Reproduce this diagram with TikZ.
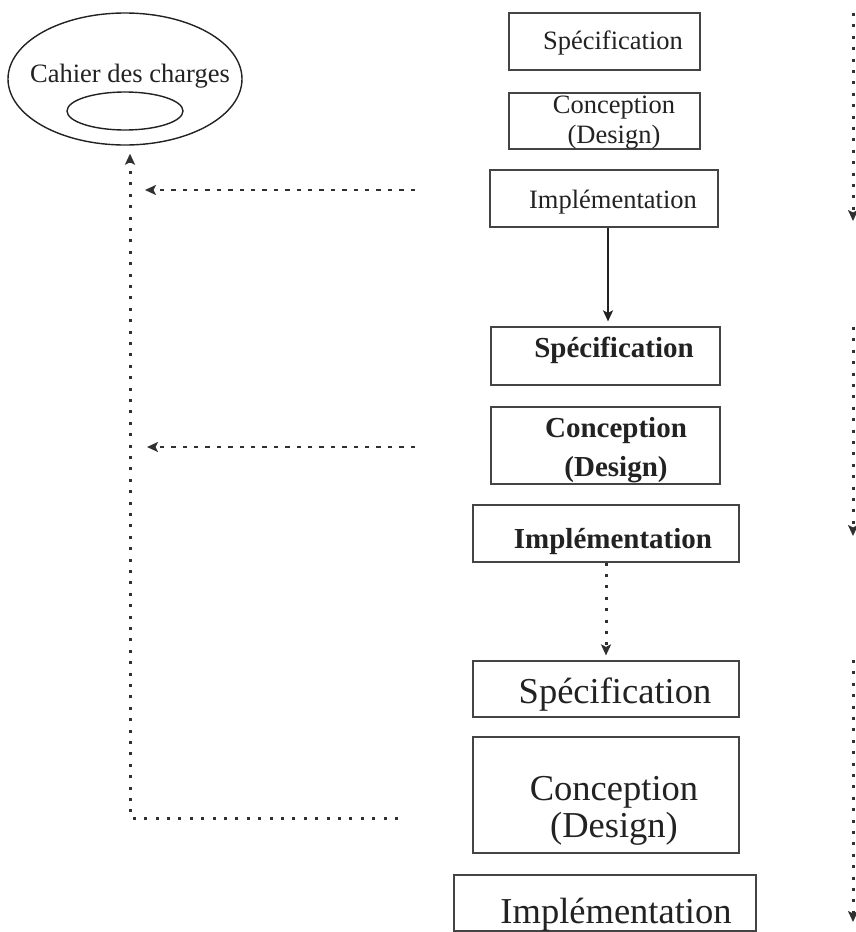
\documentclass[tikz,border=0pt]{standalone}
\usepackage{fontspec}
\setmainfont{Liberation Serif}
\usetikzlibrary{arrows.meta,shapes.geometric}
\definecolor{inkc}{HTML}{222222}
\definecolor{boxc}{HTML}{444444}
\definecolor{dotc}{HTML}{303030}
\tikzset{
  box/.style={draw=boxc, line width=1.2pt, rectangle, inner sep=0pt},
  oval/.style={draw=inkc, line width=1.4pt, ellipse, inner sep=0pt},
  lbl/.style={text=inkc, inner sep=0pt, anchor=base},
  fs/.style={font=\fontsize{26.5}{30}\selectfont},
  fm/.style={font=\fontsize{29}{34}\selectfont\bfseries},
  fl/.style={font=\fontsize{36.5}{40}\selectfont},
  dotv/.style={draw=dotc, line width=3pt, dash pattern=on 3pt off 8.4pt},
  doth/.style={draw=dotc, line width=2.6pt, dash pattern=on 4.5pt off 6.9pt},
  tipa/.style={-{Stealth[length=11pt,width=10pt,inset=2.5pt]}},
  solidarrow/.style={draw=inkc, line width=1.6pt}
}
\begin{document}
\begin{tikzpicture}[x=1pt,y=-1pt]
\useasboundingbox[fill=white] (0,0) rectangle (856,932);

% Cahier des charges
\node[oval, minimum width=234pt, minimum height=132pt] (cdc) at (125,79) {};
\node[oval, minimum width=116pt, minimum height=38pt] (inner) at (125,111) {};
\node[lbl, fs] (tcdc) at (130,82) {Cahier des charges};

% boxes, first cycle
\node[box, minimum width=191pt, minimum height=57pt] (b1) at (604.5,41.5) {};
\node[box, minimum width=191pt, minimum height=56pt] (b2) at (604.5,121) {};
\node[box, minimum width=228pt, minimum height=57pt] (b3) at (604,198.5) {};
\node[lbl, fs] (t1) at (613,49) {Spécification};
\node[lbl, fs] (t2a) at (614,113) {Conception};
\node[lbl, fs] (t2b) at (614,143) {(Design)};
\node[lbl, fs] (t3) at (613,208) {Implémentation};

% second cycle
\node[box, minimum width=229pt, minimum height=58pt] (b4) at (605.5,356) {};
\node[box, minimum width=229pt, minimum height=77pt] (b5) at (605.5,445.5) {};
\node[box, minimum width=266pt, minimum height=57pt] (b6) at (606,533.5) {};
\node[lbl, fm] (t4) at (614,357) {Spécification};
\node[lbl, fm] (t5a) at (616,437) {Conception};
\node[lbl, fm] (t5b) at (616,476) {(Design)};
\node[lbl, fm] (t6) at (613,548) {Implémentation};

% third cycle
\node[box, minimum width=266pt, minimum height=56pt] (b7) at (606,689) {};
\node[box, minimum width=266pt, minimum height=116pt] (b8) at (606,795) {};
\node[box, minimum width=302pt, minimum height=56pt] (b9) at (605,903) {};
\node[lbl, fl] (t7) at (615,703) {Spécification};
\node[lbl, fl] (t8a) at (614,800) {Conception};
\node[lbl, fl] (t8b) at (614,837) {(Design)};
\node[lbl, fl] (t9) at (616,923) {Implémentation};

% connectors between cycles
\draw[solidarrow, tipa, shorten >=5pt] ([xshift=4pt]b3.south) -- ([xshift=4pt]b3.south |- b4.north);
\draw[dotv, tipa, shorten >=5pt] (b6.south) -- (b6.south |- b7.north);

% feedback arrows on the left
\coordinate (h1s) at (415,190);
\coordinate (h1e) at (145,190);
\coordinate (h2s) at (415,447);
\coordinate (h2e) at (147,447);
\coordinate (L0) at (398,818);
\coordinate (Lc) at (130,818);
\draw[doth, tipa] (h1s) -- (h1e);
\draw[doth, tipa] (h2s) -- (h2e);
\draw[dotv, tipa, shorten >=8pt] (L0) -- (Lc) -- (Lc |- cdc.south);

% right side dotted arrows
\coordinate (r1s) at (853,13);
\coordinate (r1e) at (853,221);
\coordinate (r2s) at (853,327);
\coordinate (r2e) at (853,536);
\coordinate (r3s) at (853,660);
\coordinate (r3e) at (853,922);
\draw[dotv, tipa] (r1s) -- (r1e);
\draw[dotv, tipa] (r2s) -- (r2e);
\draw[dotv, tipa] (r3s) -- (r3e);
\end{tikzpicture}
\end{document}
